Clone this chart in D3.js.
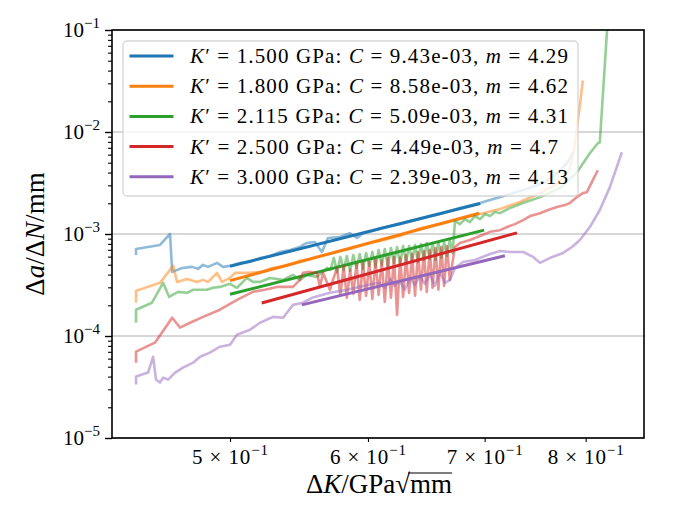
<!DOCTYPE html>
<html>
<head>
<meta charset="utf-8">
<script src="https://cdn.jsdelivr.net/npm/d3@7"></script>
<style>
  body { margin: 0; background: #fff; }
  text { font-family: "Liberation Serif", "DejaVu Serif", serif; fill: #000; }
</style>
</head>
<body>
<div id="chart"></div>
<script>
const width = 675
const height = 525
const margin = {top: 30, right: 31, bottom: 87, left: 112}

// --- Data ---
// Raw crack growth rate per K' (x = dK in GPa sqrt(mm), y = da/dN in mm)
const k1500X = [0.4416,0.4416,0.4558,0.4619,0.4632,0.4693,0.4755,0.4793,0.4825,0.4857,0.4915,0.4954,0.5,0.5066,0.5134,0.5202,0.5271,0.5341,0.5413,0.5484,0.5535,0.5593,0.5646,0.5691,0.5782,0.5858,0.5913,0.5961,0.6015,0.6096,0.6259,0.6426,0.6599,0.6776,0.6958,0.7050,0.7365,0.7581,0.7703,0.7806,0.7868]
const k1500Y = [6.23e-4,7.13e-4,7.81e-4,1.00e-3,4.25e-4,4.65e-4,4.76e-4,4.55e-4,4.98e-4,4.76e-4,5.21e-4,4.76e-4,4.87e-4,5.21e-4,5.32e-4,5.83e-4,6.09e-4,6.67e-4,6.98e-4,7.46e-4,8.17e-4,8.35e-4,6.67e-4,9.14e-4,9.35e-4,1.02e-3,9.14e-4,1.02e-3,1.05e-3,1.14e-3,1.25e-3,1.40e-3,1.57e-3,1.80e-3,2.01e-3,2.15e-3,2.69e-3,3.22e-3,3.95e-3,4.94e-3,6.33e-3]

const k1800X = [0.4416,0.4416,0.4558,0.4638,0.4662,0.4724,0.4787,0.4825,0.4857,0.4915,0.4947,0.5,0.5033,0.5134,0.5216,0.5285,0.5356,0.5427,0.5484,0.5557,0.5631,0.5706,0.5782,0.5858,0.5936,0.6015,0.6096,0.6259,0.6426,0.6599,0.6776,0.6958,0.7144,0.7335,0.7532,0.7682,0.7764,0.7835,0.7877,0.7908,0.7939,0.7970]
const k1800Y = [2.12e-4,2.77e-4,3.32e-4,4.87e-4,3.39e-4,3.63e-4,3.39e-4,3.55e-4,3.39e-4,4.16e-4,3.39e-4,3.71e-4,4.16e-4,4.16e-4,4.25e-4,4.65e-4,4.76e-4,5.09e-4,5.45e-4,5.70e-4,6.09e-4,6.37e-4,6.82e-4,7.13e-4,7.63e-4,8.17e-4,8.54e-4,9.56e-4,1.14e-3,1.25e-3,1.40e-3,1.57e-3,1.76e-3,2.06e-3,2.52e-3,3.01e-3,3.37e-3,4.42e-3,6.62e-3,1.11e-2,1.82e-2,3.20e-2]

const k2115X = [0.4416,0.4416,0.4510,0.4577,0.4613,0.4668,0.4724,0.4762,0.4850,0.4889,0.4934,0.5,0.5046,0.5113,0.5154,0.5202,0.5271,0.5363,0.5434,0.5484,0.5535,0.5609,0.5684,
  0.571,0.5735,0.576,0.5785,0.581,0.5835,0.586,0.5885,0.591,0.5935,0.596,0.5985,0.601,0.6035,0.606,0.6085,0.611,0.6135,0.616,0.6185,0.621,0.6235,0.626,0.6285,0.631,0.6335,0.636,0.6385,0.641,0.6435,0.646,0.6485,0.651,0.6535,0.656,0.6585,0.661,0.6635,0.666,0.6685,0.671,
  0.6731,0.6776,0.6820,0.6866,0.6911,0.6958,0.7004,0.7050,0.7097,0.7144,0.7239,0.7365,0.7532,0.7734,0.7909,0.8044,0.8130,0.8151,0.8235]
const k2115Y = [1.35e-4,1.81e-4,2.12e-4,3.32e-4,2.42e-4,2.71e-4,2.65e-4,2.84e-4,2.84e-4,2.97e-4,3.03e-4,3.25e-4,2.97e-4,3.71e-4,3.39e-4,3.39e-4,3.71e-4,3.55e-4,3.97e-4,3.55e-4,3.97e-4,3.80e-4,4.65e-4,
  4.45e-4,5.83e-4,4.25e-4,5.96e-4,4.45e-4,6.09e-4,4.35e-4,6.23e-4,4.65e-4,6.37e-4,4.55e-4,6.52e-4,4.87e-4,6.67e-4,4.76e-4,6.98e-4,4.98e-4,7.13e-4,4.87e-4,7.30e-4,5.21e-4,7.46e-4,5.09e-4,7.63e-4,5.32e-4,7.63e-4,5.45e-4,7.81e-4,5.32e-4,7.99e-4,5.57e-4,8.17e-4,5.70e-4,8.17e-4,5.57e-4,8.35e-4,5.83e-4,8.35e-4,6.09e-4,8.74e-4,6.50e-4,
  1.34e-3,1.25e-3,1.40e-3,1.31e-3,1.50e-3,1.40e-3,1.57e-3,1.50e-3,1.64e-3,1.60e-3,1.80e-3,2.01e-3,2.30e-3,2.82e-3,4.04e-3,6.19e-3,7.76e-3,7.93e-3,0.12]

const k2500X = [0.4416,0.4416,0.4528,0.4632,0.4680,0.4743,0.4825,0.4934,0.5046,0.5113,0.5154,0.5236,0.5320,0.5434,0.5484,0.5506,0.5543,0.5609,0.5631,0.5654,0.5706,0.5729,
  0.576,0.5785,0.581,0.5835,0.586,0.5885,0.591,0.5935,0.596,0.5985,0.601,0.6035,0.606,0.6085,0.611,0.6135,0.616,0.6185,0.621,0.6235,0.626,0.6285,0.631,0.6335,0.636,0.6385,0.641,0.6435,0.646,0.6485,0.651,0.6535,0.656,0.6585,0.661,0.6635,0.666,0.6685,
  0.6731,0.6776,0.6866,0.6958,0.7050,0.7144,0.7211,0.7286,0.7365,0.7433,0.7532,0.7611,0.7703,0.7784,0.7835,0.7908,0.7970,0.8013,0.8076,0.8130]
const k2500Y = [5.48e-5,7.02e-5,8.60e-5,1.51e-4,1.21e-4,1.35e-4,1.54e-4,1.81e-4,2.26e-4,2.53e-4,2.71e-4,2.84e-4,3.03e-4,3.03e-4,3.55e-4,4.16e-4,4.25e-4,4.16e-4,3.03e-4,4.16e-4,2.84e-4,3.55e-4,
  4.65e-4,2.48e-4,4.87e-4,2.37e-4,4.45e-4,2.59e-4,5.09e-4,2.26e-4,5.21e-4,2.48e-4,5.32e-4,2.31e-4,5.57e-4,2.53e-4,5.45e-4,2.16e-4,5.83e-4,2.37e-4,5.96e-4,1.62e-4,5.83e-4,2.42e-4,6.23e-4,2.65e-4,6.37e-4,2.48e-4,6.67e-4,2.84e-4,6.82e-4,2.71e-4,6.98e-4,2.97e-4,7.30e-4,2.84e-4,7.46e-4,3.10e-4,7.63e-4,3.55e-4,
  7.46e-4,8.17e-4,8.74e-4,9.56e-4,1.05e-3,1.09e-3,1.17e-3,1.25e-3,1.37e-3,1.50e-3,1.60e-3,1.72e-3,1.84e-3,1.92e-3,2.01e-3,2.30e-3,2.52e-3,2.57e-3,3.37e-3,4.22e-3]

const k3000X = [0.4416,0.4416,0.4487,0.4517,0.4534,0.4558,0.4577,0.4607,0.4650,0.4699,0.4762,0.4806,0.4869,0.4934,0.5,0.5046,0.5134,0.5202,0.5292,0.5363,0.5434,0.5506,0.5572,0.5706,0.5836,0.5936,0.6040,0.6096,0.6136,0.6177,0.6217,0.6259,0.6300,0.6342,0.6383,0.6426,0.6468,0.6512,0.6554,0.6599,0.6642,0.6687,0.6731,0.6803,0.6911,0.7050,0.7144,0.7239,0.7365,0.7463,0.7532,0.7632,0.7764,0.7857,0.7939,0.8044,0.8151,0.8260,0.8392]
const k3000Y = [3.34e-5,4.00e-5,4.38e-5,6.27e-5,3.74e-5,3.50e-5,3.91e-5,3.74e-5,4.38e-5,4.90e-5,5.48e-5,6.27e-5,6.87e-5,7.86e-5,8.22e-5,1.03e-4,1.15e-4,1.35e-4,1.54e-4,1.51e-4,2.02e-4,2.12e-4,2.37e-4,2.65e-4,2.84e-4,3.03e-4,3.25e-4,3.32e-4,2.97e-4,3.63e-4,3.10e-4,3.47e-4,2.84e-4,3.71e-4,3.17e-4,3.88e-4,3.25e-4,4.06e-4,3.10e-4,4.25e-4,3.32e-4,3.55e-4,4.65e-4,5.32e-4,5.57e-4,6.37e-4,6.82e-4,6.67e-4,6.67e-4,5.96e-4,5.21e-4,5.83e-4,6.52e-4,7.46e-4,8.74e-4,1.17e-3,1.72e-3,2.88e-3,6.33e-3]

// Paris law fits da/dN = C * dK^m, with the dK range each fit covers
const kPrime = ["1.500", "1.800", "2.115", "2.500", "3.000"]
const fitC = ["9.43e-03", "8.58e-03", "5.09e-03", "4.49e-03", "2.39e-03"]
const fitM = ["4.29", "4.62", "4.31", "4.7", "4.13"]
const fitStart = [0.5, 0.5, 0.5, 0.5214, 0.5498]
const fitEnd = [0.696, 0.695, 0.6995, 0.7306, 0.719]

const colors = ["#1f77b4", "#ff7f0e", "#2ca02c", "#d62728", "#9467bd"]

// Axis ticks
const yMajor = [1e-5, 1e-4, 1e-3, 1e-2, 1e-1]
const yExp = ["5", "4", "3", "2", "1"]
const xTicks = [0.5, 0.6, 0.7, 0.8]
const xTickMant = ["5", "6", "7", "8"]

const rawX = [k1500X, k1800X, k2115X, k2500X, k3000X]
const rawY = [k1500Y, k1800Y, k2115Y, k2500Y, k3000Y]

// --- Scales ---
const xScale = d3.scaleLog()
                 .domain([0.4278, 0.8641])
                 .range([margin.left, width - margin.right])

const yScale = d3.scaleLog()
                 .domain([1e-5, 1e-1])
                 .range([height - margin.bottom, margin.top])

const svg = d3.select("#chart")
              .append("svg")
                .attr("width", width)
                .attr("height", height)

svg.append("defs").append("clipPath")
   .attr("id", "plot-clip")
   .append("rect")
     .attr("x", margin.left)
     .attr("y", margin.top)
     .attr("width", width - margin.left - margin.right)
     .attr("height", height - margin.top - margin.bottom)

// Horizontal grid at decades
svg.append("g")
   .selectAll("line")
   .data(yMajor)
   .join("line")
     .attr("x1", margin.left)
     .attr("x2", width - margin.right)
     .attr("y1", d => yScale(d))
     .attr("y2", d => yScale(d))
     .attr("stroke", "#b0b0b0")
     .attr("stroke-width", 1.1)

// Data + fit lines
const lineGen = d3.line()
                  .x(d => xScale(d[0]))
                  .y(d => yScale(d[1]))

const plot = svg.append("g").attr("clip-path", "url(#plot-clip)")

rawX.forEach((xs, i) => {
  const pts = xs.map((v, j) => [v, rawY[i][j]])
  plot.append("path")
      .datum(pts)
      .attr("fill", "none")
      .attr("stroke", colors[i])
      .attr("stroke-opacity", 0.5)
      .attr("stroke-width", 2.6)
      .attr("stroke-linejoin", "round")
      .attr("d", lineGen)

  const C = +fitC[i], m = +fitM[i]
  const fit = [fitStart[i], fitEnd[i]].map(v => [v, C * Math.pow(v, m)])
  plot.append("path")
      .datum(fit)
      .attr("fill", "none")
      .attr("stroke", colors[i])
      .attr("stroke-width", 3)
      .attr("d", lineGen)
})

// --- Axes ---
const yMinor = []
yMajor.slice(0, -1).forEach(d => d3.range(2, 10).forEach(k => yMinor.push(d * k)))

svg.append("g")
   .attr("transform", `translate(${margin.left},0)`)
   .call(d3.axisLeft(yScale).tickValues(yMajor).tickSize(7).tickFormat(""))
   .call(g => g.select(".domain").remove())
   .call(g => g.selectAll("line").attr("stroke-width", 1.4))

svg.append("g")
   .attr("transform", `translate(${margin.left},0)`)
   .call(d3.axisLeft(yScale).tickValues(yMinor).tickSize(4).tickFormat(""))
   .call(g => g.select(".domain").remove())
   .call(g => g.selectAll("line").attr("stroke-width", 1.1))

svg.append("g")
   .attr("transform", `translate(0,${height - margin.bottom})`)
   .call(d3.axisBottom(xScale).tickValues(xTicks).tickSize(4).tickFormat(""))
   .call(g => g.select(".domain").remove())
   .call(g => g.selectAll("line").attr("stroke-width", 1.1))

// y tick labels 10^-k
svg.append("g")
   .selectAll("text")
   .data(yMajor)
   .join("text")
     .attr("x", margin.left - 12)
     .attr("y", d => yScale(d) + 7)
     .attr("text-anchor", "end")
     .attr("font-size", 21)
     .each(function(d, i) {
       const t = d3.select(this)
       t.append("tspan").text("10")
       t.append("tspan").attr("dy", -9).attr("font-size", 15).text("\u2212" + yExp[i])
     })

// x tick labels  n x 10^-1
svg.append("g")
   .selectAll("text")
   .data(xTicks)
   .join("text")
     .attr("x", d => xScale(d))
     .attr("y", height - margin.bottom + 26)
     .attr("text-anchor", "middle")
     .attr("font-size", 21)
     .attr("textLength", 76)
     .attr("lengthAdjust", "spacing")
     .each(function(d, i) {
       const t = d3.select(this)
       t.append("tspan").text(xTickMant[i] + " \u00d7 10")
       t.append("tspan").attr("dy", -9).attr("font-size", 15).text("\u22121")
     })

// frame
svg.append("rect")
   .attr("x", margin.left)
   .attr("y", margin.top)
   .attr("width", width - margin.left - margin.right)
   .attr("height", height - margin.top - margin.bottom)
   .attr("fill", "none")
   .attr("stroke", "#000")
   .attr("stroke-width", 1.6)

// axis labels
const yLabel = svg.append("text")
                  .attr("transform", `translate(44,${(margin.top + height - margin.bottom) / 2}) rotate(-90)`)
                  .attr("text-anchor", "middle")
                  .attr("font-size", 27)
yLabel.append("tspan").text("\u0394")
yLabel.append("tspan").attr("font-style", "italic").text("a")
yLabel.append("tspan").text("/\u0394")
yLabel.append("tspan").attr("font-style", "italic").text("N")
yLabel.append("tspan").text("/mm")

const xLabel = svg.append("text")
                  .attr("x", 379)
                  .attr("y", 493)
                  .attr("text-anchor", "middle")
                  .attr("font-size", 27)
xLabel.append("tspan").text("\u0394")
xLabel.append("tspan").attr("font-style", "italic").text("K")
xLabel.append("tspan").text("/GPa\u221amm")

// overbar of the square root over "mm"
const xl = xLabel.node()
const barStart = xl.getStartPositionOfChar(7).x
const barEnd = xl.getEndPositionOfChar(8).x
svg.append("line")
   .attr("x1", barStart - 2)
   .attr("x2", barEnd)
   .attr("y1", 493 - 20)
   .attr("y2", 493 - 20)
   .attr("stroke", "#000")
   .attr("stroke-width", 1.1)

// --- Legend ---
const legend = svg.append("g")
legend.append("rect")
      .attr("x", 123)
      .attr("y", 41)
      .attr("width", 455)
      .attr("height", 155)
      .attr("rx", 4)
      .attr("fill", "#fff")
      .attr("fill-opacity", 0.8)
      .attr("stroke", "#cccccc")
      .attr("stroke-opacity", 0.8)
      .attr("stroke-width", 1.3)

const textWidths = [378, 378, 378, 368, 378]

kPrime.forEach((k, i) => {
  const rowY = 56 + i * 30.2
  legend.append("line")
        .attr("x1", 131)
        .attr("x2", 172)
        .attr("y1", rowY)
        .attr("y2", rowY)
        .attr("stroke", colors[i])
        .attr("stroke-width", 3)
        .attr("stroke-linecap", "square")
  const t = legend.append("text")
                  .attr("x", 190)
                  .attr("y", rowY + 7)
                  .attr("font-size", 21)
  t.append("tspan").attr("font-style", "italic").text("K")
  t.append("tspan").text(`\u2032 = ${k} GPa: `)
  t.append("tspan").attr("font-style", "italic").text("C")
  t.append("tspan").text(` = ${fitC[i]}, `)
  t.append("tspan").attr("font-style", "italic").text("m")
  t.append("tspan").text(` = ${fitM[i]}`)
  t.attr("textLength", textWidths[i]).attr("lengthAdjust", "spacing")
})
</script>
</body>
</html>
